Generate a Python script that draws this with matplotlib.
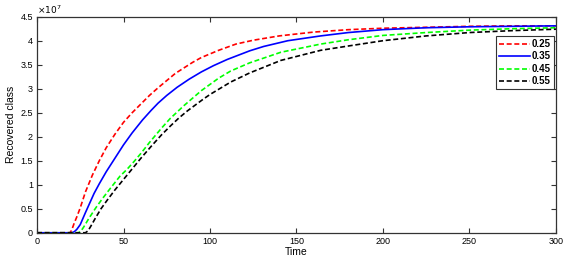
import matplotlib
matplotlib.use("Agg")
import matplotlib.pyplot as plt

# values are in units of 1e7
t_red = [0, 19, 20, 21.5, 23, 25, 28, 32, 36, 40, 45, 50, 55, 60, 65, 70, 80, 90, 95,
         105, 115, 125, 140, 160, 180, 200, 225, 250, 275, 300]
v_red = [0, 0, 0.05, 0.2, 0.33, 0.52, 0.85, 1.2, 1.5, 1.77, 2.05, 2.30, 2.50, 2.68, 2.86,
         3.02, 3.32, 3.55, 3.65, 3.80, 3.93, 4.01, 4.10, 4.18, 4.23, 4.26, 4.28, 4.30, 4.31, 4.31]

t_blue = [0, 20, 21.5, 23, 25, 28, 30, 33, 36, 40, 45, 50, 55, 61, 66, 70, 75, 81, 88, 95,
          102, 110, 123, 131, 145, 164, 180, 200, 225, 250, 275, 300]
v_blue = [0, 0, 0.02, 0.07, 0.17, 0.42, 0.58, 0.82, 1.02, 1.27, 1.55, 1.83, 2.08, 2.35, 2.55,
          2.70, 2.86, 3.03, 3.20, 3.35, 3.48, 3.61, 3.79, 3.88, 4.00, 4.10, 4.17, 4.23, 4.27,
          4.29, 4.30, 4.31]

t_green = [0, 24, 25.5, 27, 30, 34, 38, 42.5, 48, 52, 56, 60, 65, 72, 77, 85, 95, 105,
           112, 123, 141, 164, 180, 200, 225, 250, 275, 300]
v_green = [0, 0, 0.04, 0.12, 0.30, 0.52, 0.72, 0.93, 1.18, 1.32, 1.48, 1.65, 1.88, 2.18,
           2.38, 2.65, 2.96, 3.22, 3.37, 3.54, 3.76, 3.93, 4.02, 4.11, 4.17, 4.22, 4.25, 4.27]

t_black = [0, 28, 29.5, 31, 34, 37, 40.6, 45, 50, 55, 60, 66, 72, 77, 82, 87, 96, 100,
           112, 123, 141, 164, 180, 200, 225, 250, 275, 300]
v_black = [0, 0, 0.04, 0.13, 0.32, 0.50, 0.68, 0.89, 1.11, 1.33, 1.55, 1.80, 2.04, 2.22,
           2.39, 2.54, 2.78, 2.88, 3.14, 3.33, 3.59, 3.80, 3.89, 4.00, 4.10, 4.17, 4.21, 4.24]

labels = ["0.25", "0.35", "0.45", "0.55"]
xticks = [0, 50, 100, 150, 200, 250, 300]
yticks = [0, 0.5, 1, 1.5, 2, 2.5, 3, 3.5, 4, 4.5]

plt.rcParams['font.family'] = ['Liberation Sans', 'DejaVu Sans']

fig = plt.figure(figsize=(5.72, 2.63), dpi=100)
ax = fig.add_axes([0.0647, 0.115, 0.9073, 0.8215])

dash = (0, (3, 1.6))
ax.plot(t_red, v_red, color='#ff0000', lw=1.2, linestyle=dash, label=labels[0])
ax.plot(t_blue, v_blue, color='#0000ff', lw=1.2, label=labels[1])
ax.plot(t_green, v_green, color='#00ff00', lw=1.2, linestyle=dash, label=labels[2])
ax.plot(t_black, v_black, color='#000000', lw=1.2, linestyle=dash, label=labels[3])

ax.set_xlim(0, 300)
ax.set_ylim(0, 4.5)
ax.set_xticks(xticks)
ax.set_yticks(yticks)
ax.set_yticklabels(["%g" % y for y in yticks])
ax.tick_params(direction='in', length=3.5, width=0.8, labelsize=6.5, top=True, right=True,
               color='#333333', pad=3)
for s in ax.spines.values():
    s.set_color('#333333')
    s.set_linewidth(0.9)

ax.set_xlabel("Time", fontsize=7.5, labelpad=1)
ax.set_ylabel("Recovered class", fontsize=7.5, labelpad=3)
ax.text(0.0, 1.005, r"$\times10^{7}$", transform=ax.transAxes, fontsize=6.5,
        ha='left', va='bottom')

leg = ax.legend(loc='upper right', bbox_to_anchor=(0.996, 0.91),
                prop={'weight': 'bold', 'size': 7}, fancybox=False, framealpha=1,
                edgecolor='#333333', handlelength=3.2, handletextpad=0.2,
                borderpad=0.3, labelspacing=0.25, borderaxespad=0)
leg.get_frame().set_linewidth(0.8)

fig.savefig("out.png", dpi=100)
